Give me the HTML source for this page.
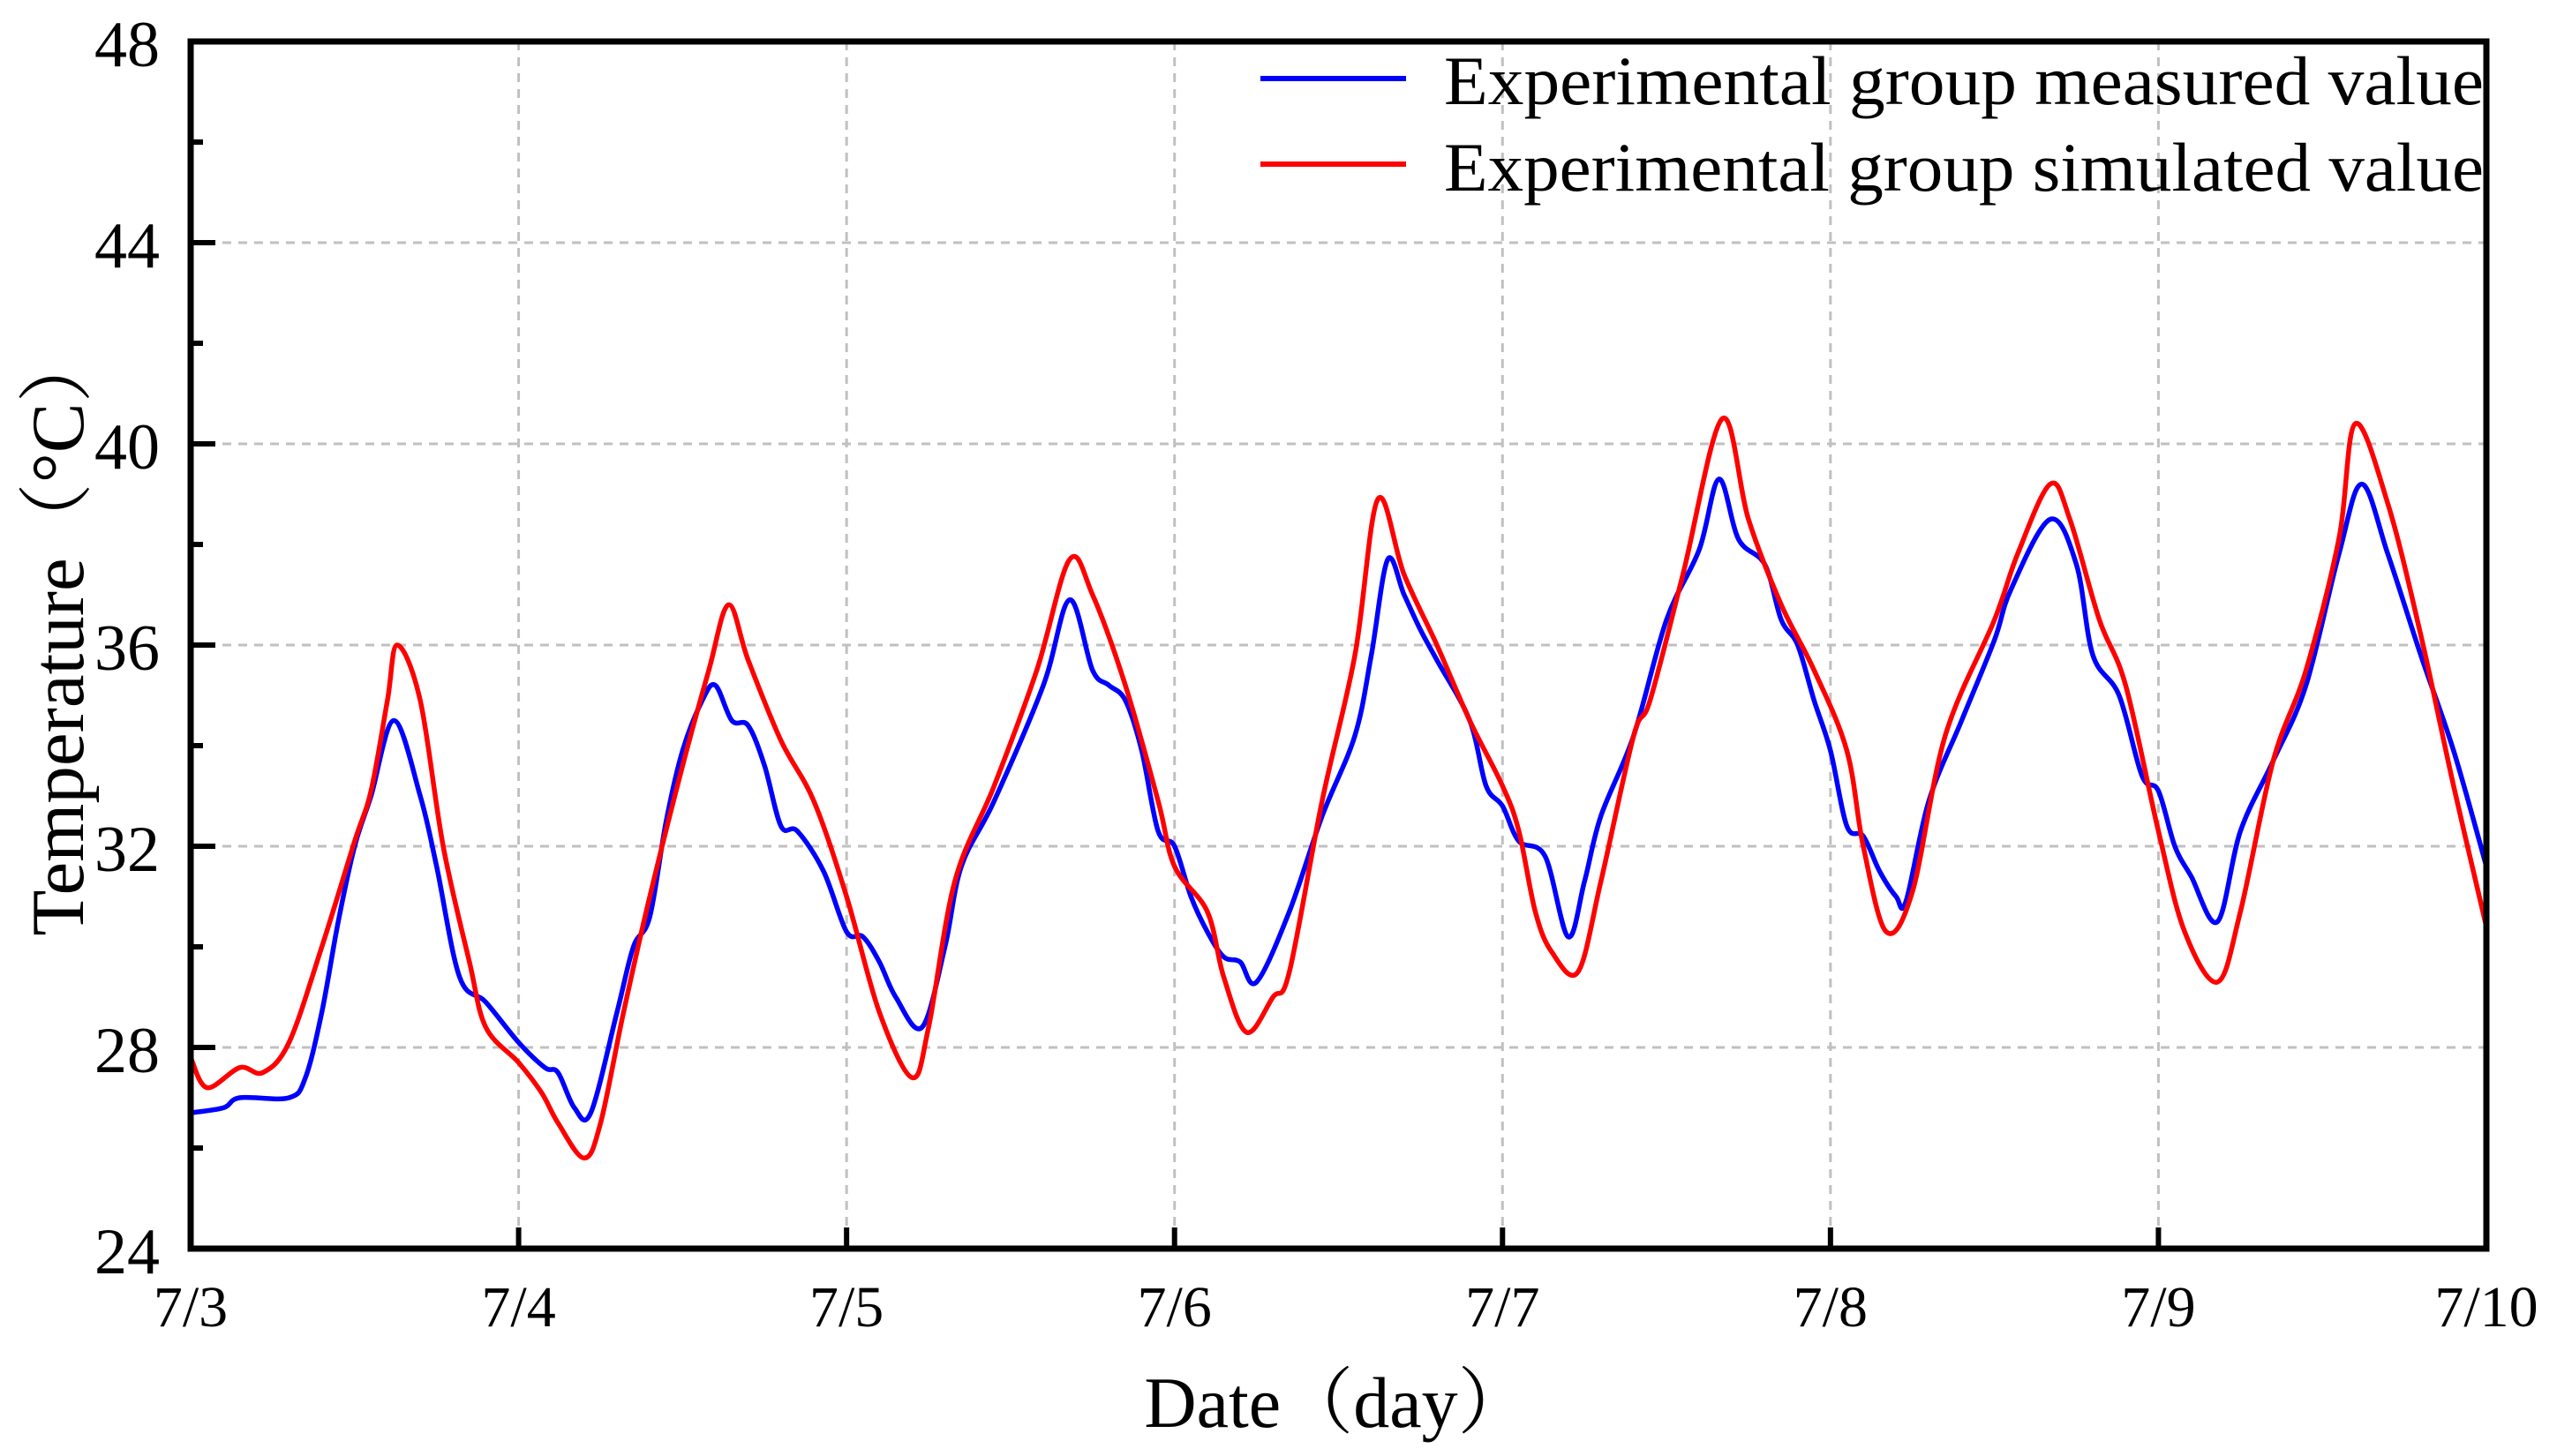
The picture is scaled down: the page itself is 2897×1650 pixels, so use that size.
<!DOCTYPE html>
<html><head><meta charset="utf-8"><style>
html,body{margin:0;padding:0;background:#fff;}
svg{display:block;}
text{font-family:"Liberation Serif","Noto Serif CJK SC",serif;fill:#000;}
</style></head><body>
<svg id="chart" width="2897" height="1650" viewBox="0 0 2897 1650" xmlns="http://www.w3.org/2000/svg">
<g id="grid"></g>
<g id="series"></g>
<g id="axes"></g>
<g id="legend">
  <line x1="1428" y1="89" x2="1593" y2="89" stroke="#0000ff" stroke-width="6"/>
  <text x="1636" y="118" font-size="78" textLength="1178" lengthAdjust="spacingAndGlyphs">Experimental group measured value</text>
  <line x1="1428" y1="186" x2="1593" y2="186" stroke="#ff0000" stroke-width="6"/>
  <text x="1636" y="216" font-size="78" textLength="1178" lengthAdjust="spacingAndGlyphs">Experimental group simulated value</text>
</g>
<text x="1515" y="1617" font-size="82" text-anchor="middle">Date（day）</text>
<text transform="translate(94,716) rotate(-90)" font-size="85" text-anchor="middle">Temperature（°C）</text>
</svg>
<script>
const xTickLabels = ["7/3","7/4","7/5","7/6","7/7","7/8","7/9","7/10"];
const yTicks = [24,28,32,36,40,44,48];
const measuredX = [0,0.1,0.15,0.3,0.35,0.4,0.45,0.5,0.55,0.62,0.7,0.75,0.82,0.9,1.0,1.08,1.12,1.17,1.22,1.3,1.35,1.4,1.45,1.5,1.56,1.6,1.65,1.7,1.75,1.8,1.85,1.93,2.0,2.05,2.1,2.15,2.23,2.3,2.35,2.45,2.6,2.68,2.75,2.8,2.85,2.9,2.95,3.0,3.05,3.1,3.15,3.2,3.25,3.35,3.45,3.55,3.6,3.65,3.7,3.75,3.8,3.9,3.95,4.0,4.05,4.13,4.2,4.25,4.3,4.4,4.5,4.6,4.66,4.72,4.8,4.85,4.9,4.95,5.0,5.05,5.1,5.15,5.2,5.23,5.3,5.4,5.5,5.55,5.67,5.75,5.8,5.88,5.95,6.0,6.05,6.1,6.18,6.25,6.35,6.45,6.55,6.62,6.7,6.8,6.9,7.0];
const measuredY = [26.7,26.8,27.0,27.0,27.4,28.7,30.5,32,33,34.5,33,31.6,29.4,28.9,28.1,27.6,27.5,26.8,26.7,28.7,30,30.6,32.5,33.9,34.9,35.2,34.5,34.4,33.6,32.4,32.3,31.5,30.3,30.2,29.7,29.0,28.4,30,31.6,32.9,35.2,36.9,35.5,35.2,34.9,33.9,32.3,32.0,31,30.3,29.8,29.7,29.3,30.7,32.6,34.2,35.8,37.7,37,36.3,35.7,34.5,33.2,32.8,32.1,31.8,30.2,31.3,32.6,34.2,36.5,37.9,39.3,38.1,37.6,36.5,36,34.9,33.9,32.4,32.2,31.5,31,30.9,32.9,34.5,36.1,37.1,38.5,37.6,35.8,35,33.4,33.1,32,31.4,30.5,32.3,33.7,35.2,37.8,39.2,37.8,35.8,33.9,31.6];
const simulatedX = [0,0.05,0.15,0.22,0.3,0.4,0.5,0.55,0.6,0.63,0.7,0.77,0.85,0.9,1.0,1.07,1.12,1.2,1.25,1.32,1.4,1.5,1.58,1.64,1.7,1.8,1.9,2.0,2.1,2.2,2.25,2.33,2.45,2.58,2.68,2.75,2.85,2.95,3.0,3.1,3.15,3.22,3.3,3.35,3.45,3.55,3.62,3.7,3.8,3.9,4.0,4.05,4.1,4.15,4.23,4.3,4.4,4.45,4.55,4.67,4.75,4.85,4.95,5.05,5.1,5.17,5.25,5.35,5.5,5.57,5.67,5.73,5.82,5.9,6.0,6.08,6.18,6.25,6.35,6.45,6.55,6.6,6.7,6.8,6.9,7.0];
const simulatedY = [27.8,27.2,27.6,27.5,28.1,30,32.1,33.1,34.9,36.0,34.9,32,29.7,28.4,27.7,27.1,26.5,25.8,26.5,28.7,31,33.6,35.5,36.8,35.7,34.1,32.9,31,28.7,27.4,28.4,31.3,33.2,35.5,37.7,37,35.2,32.9,31.6,30.7,29.4,28.3,29,29.5,32.9,35.8,38.9,37.4,36,34.5,33.2,32.3,30.7,29.9,29.5,31.3,34.2,34.9,37.4,40.5,38.5,36.8,35.5,33.9,32,30.3,31.1,34.2,36.5,37.8,39.2,38.5,36.5,35.2,32.3,30.3,29.3,30.7,33.7,35.5,38.1,40.4,38.8,36.2,33.2,30.4];

const L=216,R=2817,T=47,B=1415;
const xs = d => L + d*(R-L)/7;
const ys = v => B - (v-24)*(B-T)/24;
const NS="http://www.w3.org/2000/svg";
function mk(tag, parent, attrs){const e=document.createElementNS(NS,tag);for(const k in attrs)e.setAttribute(k,attrs[k]);parent.appendChild(e);return e;}
const grid=document.getElementById('grid'), axes=document.getElementById('axes'), series=document.getElementById('series');

xTickLabels.forEach((lab,i)=>{
  const x=xs(i);
  if(i>0&&i<7){const g=mk('line',grid,{x1:x,y1:T,x2:x,y2:B,stroke:'#c0c0c0','stroke-width':3,'stroke-dasharray':'10 8'});
  
  }
  const t=mk('line',axes,{x1:x,y1:B,x2:x,y2:B-24,stroke:'#000','stroke-width':6});
  
  
  const tx=mk('text',axes,{x:x,y:1503,'font-size':66,'text-anchor':'middle'});
  tx.textContent=lab;
  
  
});
yTicks.forEach((v,i)=>{
  const y=ys(v);
  if(v>24&&v<48){const g=mk('line',grid,{x1:L,y1:y,x2:R,y2:y,stroke:'#c0c0c0','stroke-width':3,'stroke-dasharray':'10 8'});
  
  }
  const t=mk('line',axes,{x1:L,y1:y,x2:L+28,y2:y,stroke:'#000','stroke-width':6});
  
  
  if(i<yTicks.length-1){const m=mk('line',axes,{x1:L,y1:ys(v+2),x2:L+14,y2:ys(v+2),stroke:'#000','stroke-width':6});
  
  }
  const tx=mk('text',axes,{x:181,y:y+28,'font-size':74,'text-anchor':'end'});
  tx.textContent=v;
  
  
});
const frame=mk('rect',axes,{x:L,y:T,width:R-L,height:B-T,fill:'none',stroke:'#000','stroke-width':7});



function smooth(X,Y){
  const p=X.map((d,i)=>[xs(d),ys(Y[i])]);
  let s=`M${p[0][0]},${p[0][1]}`;
  for(let i=0;i<p.length-1;i++){
    const p0=p[Math.max(0,i-1)],p1=p[i],p2=p[i+1],p3=p[Math.min(p.length-1,i+2)];
    const c1=[p1[0]+(p2[0]-p0[0])/6,p1[1]+(p2[1]-p0[1])/6];
    const c2=[p2[0]-(p3[0]-p1[0])/6,p2[1]-(p3[1]-p1[1])/6];
    s+=` C${c1[0]},${c1[1]} ${c2[0]},${c2[1]} ${p2[0]},${p2[1]}`;
  }
  return s;
}
const lm=mk('path',series,{d:smooth(measuredX,measuredY),fill:'none',stroke:'#0000ff','stroke-width':5.5,'stroke-linejoin':'round'});


const ls=mk('path',series,{d:smooth(simulatedX,simulatedY),fill:'none',stroke:'#ff0000','stroke-width':5.5,'stroke-linejoin':'round'});


</script>
</body></html>
